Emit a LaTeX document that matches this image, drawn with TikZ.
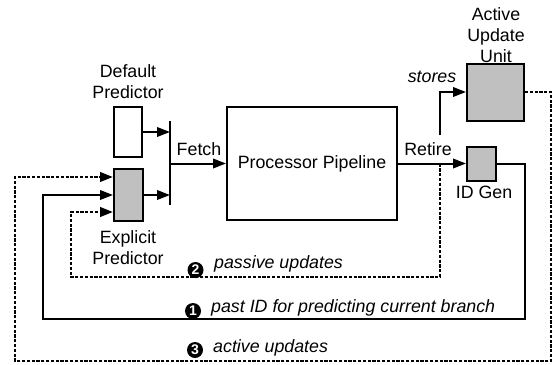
\documentclass[tikz,border=0pt]{standalone}
\usepackage{fontspec}
\setmainfont{Liberation Sans}
\usetikzlibrary{arrows.meta,calc}
\definecolor{boxgray}{RGB}{192,192,192}
\begin{document}
\begin{tikzpicture}[x=1pt,y=-1pt,
  every node/.style={font=\fontsize{17.8}{21}\selectfont, inner sep=0pt},
  box/.style={draw, line width=2pt},
  greybox/.style={box, fill=boxgray},
  ln/.style={line width=2pt},
  arr/.style={-{Triangle[length=13pt,width=9.5pt]}},
  dsh/.style={line width=2.5pt, dash pattern=on 3.2pt off 1.6pt},
  num/.style={circle, fill=black, minimum size=16pt, text=white, font=\fontsize{14}{14}\selectfont\bfseries},
  lbl/.style={anchor=west, font=\fontsize{17.8}{21}\selectfont\itshape}]
\useasboundingbox (0,0) rectangle (553,364);

% boxes
\node[box, minimum width=28pt, minimum height=50pt] (dp) at (128,132) {};
\node[greybox, minimum width=29pt, minimum height=52pt] (ep) at (128.5,195) {};
\node[box, minimum width=170pt, minimum height=113pt] (pp) at (312,163.5) {Processor Pipeline};
\node[greybox, minimum width=29pt, minimum height=34pt] (idg) at (481.5,163.5) {};
\node[greybox, minimum width=57pt, minimum height=57pt] (auu) at (495.5,92) {};

% labels
\node[align=center] (dpl) at (128,82) {Default\\Predictor};
\node[align=center] (epl) at (128,248) {Explicit\\Predictor};
\node[align=center] (auul) at (496,35) {Active\\Update\\Unit};
\node (idgl) at (484,192) {ID Gen};
\node (fetchl) at (199,149) {Fetch};
\node (retl) at (428,149) {Retire};
\node[font=\fontsize{17.8}{21}\selectfont\itshape] (stl) at (432,77) {stores};

% fetch bar
\coordinate (bartop) at (170,121);
\coordinate (barbot) at (170,205);
\draw[ln] (bartop) -- (barbot);

% solid connectors
\draw[ln,arr] (dp.east) -- (dp.east -| bartop);
\draw[ln,arr] (ep.east) -- (ep.east -| bartop);
\draw[ln,arr] (pp.west -| bartop) -- (pp.west);
\draw[ln,arr] (pp.east) -- (idg.west);
\coordinate (st0) at (440,135);
\draw[ln,arr] (st0) |- (auu.west);

% loop 1: past ID
\coordinate (c1a) at (525,319);
\coordinate (c1b) at (43,319);
\draw[ln,arr] (idg.east) -| (c1a) -- (c1b) |- (ep.west);

% loop 2: passive updates
\coordinate (p0) at (440,163.5);
\coordinate (c2a) at (440,277);
\coordinate (c2b) at (71,277);
\draw[dsh,arr] (p0) -- (c2a) -- (c2b) |- ([yshift=-17pt]ep.west);

% loop 3: active updates
\coordinate (c3a) at (551,361);
\coordinate (c3b) at (15,361);
\draw[dsh,arr] (auu.east) -| (c3a) -- (c3b) |- ([yshift=18pt]ep.west);

% loop labels
\node[num] (n2) at (195.5,270) {2};
\node[lbl] (t2) at (214,264) {passive updates};
\node[num] (n1) at (193,311) {1};
\node[lbl] (t1) at (211,308) {past ID for predicting current branch};
\node[num] (n3) at (195,350) {3};
\node[lbl] (t3) at (213,348) {active updates};
\end{tikzpicture}
\end{document}
